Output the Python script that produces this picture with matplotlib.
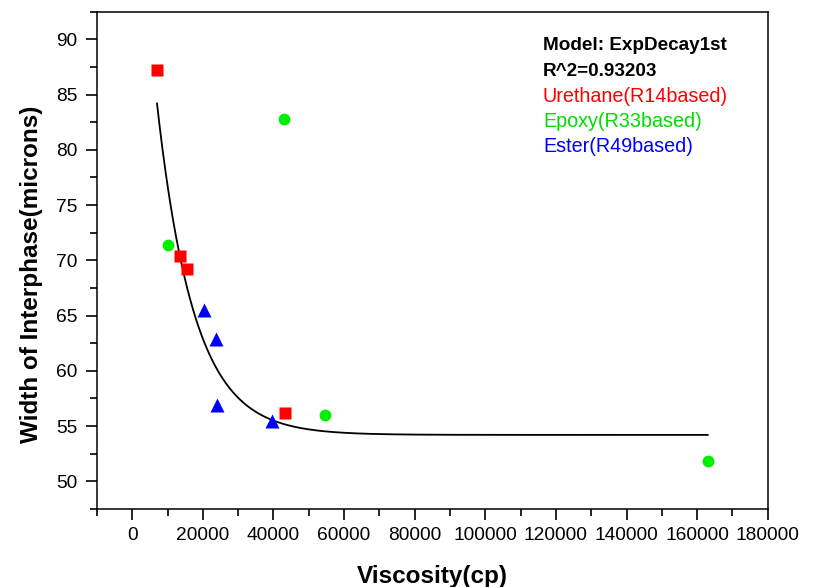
import matplotlib.pyplot as plt
import numpy as np
from matplotlib.ticker import MultipleLocator

plt.rcParams['font.family'] = ['Liberation Sans', 'DejaVu Sans']

# data
urethane_x = [7000, 13500, 15500, 43200]
urethane_y = [87.2, 70.4, 69.2, 56.2]
epoxy_x = [10000, 43100, 54600, 163000]
epoxy_y = [71.4, 82.8, 56.0, 51.8]
ester_x = [20200, 23800, 24000, 39600]
ester_y = [65.5, 62.9, 56.9, 55.5]

# ExpDecay1 fit: y = y0 + A * exp(-(x - x0) / t)
fit_y0 = 54.2
fit_A = 30.0
fit_x0 = 7000
fit_t = 10500
fit_range = (7000, 163000)

fig = plt.figure(figsize=(8.15, 5.87), dpi=100)
ax = fig.add_axes([0.119, 0.133, 0.823, 0.847])

xs = np.linspace(fit_range[0], fit_range[1], 400)
ax.plot(xs, fit_y0 + fit_A * np.exp(-(xs - fit_x0) / fit_t), color='black', lw=1.3, zorder=2)

ax.plot(urethane_x, urethane_y, 's', color='#ff0000', ms=8, mec='none', zorder=3)
ax.plot(epoxy_x, epoxy_y, 'o', color='#00ee00', ms=8.5, mec='none', zorder=3)
ax.plot(ester_x, ester_y, '^', color='#0000ff', ms=9.5, mec='none', zorder=3)

ax.set_xlim(-10000, 180000)
ax.set_ylim(47.5, 92.5)
ax.xaxis.set_major_locator(MultipleLocator(20000))
ax.xaxis.set_minor_locator(MultipleLocator(10000))
ax.yaxis.set_major_locator(MultipleLocator(5))
ax.yaxis.set_minor_locator(MultipleLocator(2.5))
ax.tick_params(which='both', direction='out', width=1.2, labelsize=13.8)
ax.tick_params(which='major', length=8)
ax.tick_params(which='minor', length=5)
ax.tick_params(axis='x', pad=5)
ax.tick_params(axis='y', pad=6)
for s in ax.spines.values():
    s.set_linewidth(1.1)

ax.set_xlabel('Viscosity(cp)', fontsize=17.5, fontweight='bold', labelpad=15)
ax.set_ylabel('Width of Interphase(microns)', fontsize=17.5, fontweight='bold')
ax.yaxis.set_label_coords(-0.080, 0.471)

lines = [('Model: ExpDecay1st', 'black', 'bold'),
         ('R^2=0.93203', 'black', 'bold'),
         ('Urethane(R14based)', '#ff0000', 'normal'),
         ('Epoxy(R33based)', '#00dd00', 'normal'),
         ('Ester(R49based)', '#0000ff', 'normal')]
for i, (txt, col, wt) in enumerate(lines):
    fig.text(543 / 815, 1 - (46 + 25 * i) / 587, txt, color=col, fontweight=wt,
             fontsize=14.2 if wt == 'normal' else 13.6, va='center', ha='left')

fig.savefig('out.png', dpi=100)
